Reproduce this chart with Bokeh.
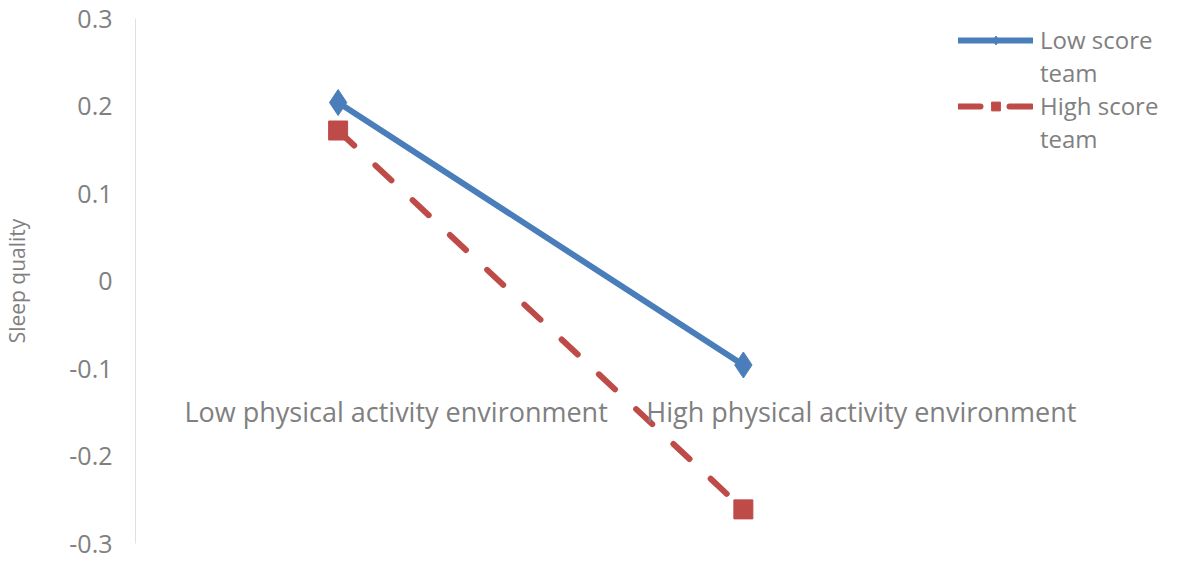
from bokeh.plotting import figure
from bokeh.models import Range1d, Legend, LegendItem, ColumnDataSource, FixedTicker, LabelSet
from bokeh.core.properties import value
from bokeh.embed import file_html
from bokeh.resources import INLINE

categories = ["Low physical activity environment", "High physical activity environment"]
low_team = [0.204, -0.096]
high_team = [0.172, -0.261]
y_ticks = [-0.3, -0.2, -0.1, 0, 0.1, 0.2, 0.3]
tick_labels = {-0.3: "-0.3", -0.2: "-0.2", -0.1: "-0.1", 0: "0", 0.1: "0.1", 0.2: "0.2", 0.3: "0.3"}
legend_lines = ["Low score", "team", "High score", "team"]
label_row = [-0.1, -0.1]
positions = list(range(len(categories)))

# layout / style
FONT = "Open Sans"
GRAY = "#808080"
BLUE = "#4a7ebb"
RED = "#be4b48"
FS = "25px"
LABEL_SHIFT_PX = [58, 118]  # horizontal shift of category labels, in screen px

W, H = 1165, 560
LEFT, TOP, BOTTOM = 128, 18, 17
UNIT = 408.0  # px per category slot
frame_w = W - LEFT
x_start = -0.5
x_end = x_start + frame_w / UNIT

p = figure(width=W, height=H, x_range=Range1d(x_start, x_end),
           y_range=Range1d(-0.3, 0.3), output_backend="svg", toolbar_location=None,
           min_border_left=LEFT, min_border_right=0, min_border_top=TOP, min_border_bottom=BOTTOM)
p.outline_line_color = None
p.xgrid.visible = False
p.ygrid.visible = False
p.xaxis.visible = False

ya = p.yaxis[0]
ya.ticker = FixedTicker(ticks=y_ticks)
ya.major_label_overrides = {k: v for k, v in tick_labels.items()}
ya.axis_line_color = "#e0e0e0"
ya.axis_line_width = 1
ya.major_tick_line_color = None
ya.minor_tick_line_color = None
ya.major_label_text_font = FONT
ya.major_label_text_font_size = FS
ya.major_label_text_color = GRAY
ya.major_label_standoff = 17
ya.axis_label = "Sleep quality"
ya.axis_label_text_font = FONT
ya.axis_label_text_font_size = "21px"
ya.axis_label_text_font_style = "normal"
ya.axis_label_text_color = GRAY
ya.axis_label_standoff = 35

src = ColumnDataSource(dict(x=positions, cat=categories, low=low_team, high=high_team, ly=label_row))
lab_src = ColumnDataSource(dict(x=positions, cat=categories, ly=label_row, dx=LABEL_SHIFT_PX))

bl = p.line("x", "low", source=src, line_color=BLUE, line_width=6, line_cap="round")
bm = p.scatter("x", "low", source=src, marker="diamond", size=26, fill_color=BLUE, line_color=BLUE)
rl = p.line("x", "high", source=src, line_color=RED, line_width=6, line_dash="22 29", line_cap="round")
rm = p.scatter("x", "high", source=src, marker="square", size=19, fill_color=RED, line_color=RED)
dummy = p.line([], [], line_alpha=0)

labels = LabelSet(x="x", y="ly", text="cat", source=lab_src, text_font=value(FONT), text_font_size="27px",
                  text_color=GRAY, text_align="center", text_baseline="top", y_offset=-24, x_offset="dx")
p.add_layout(labels)

legend = Legend(items=[LegendItem(label=legend_lines[0], renderers=[bl, bm]),
                       LegendItem(label=legend_lines[1], renderers=[dummy]),
                       LegendItem(label=legend_lines[2], renderers=[rl, rm]),
                       LegendItem(label=legend_lines[3], renderers=[dummy])],
                location=(823, 388), margin=0, padding=0, spacing=0,
                glyph_width=75, glyph_height=22, label_standoff=7,
                label_text_font=FONT, label_text_font_size="24px", label_text_color=GRAY,
                border_line_color=None, background_fill_alpha=0)
p.add_layout(legend)

open("out.html", "w").write(file_html(p, INLINE))
